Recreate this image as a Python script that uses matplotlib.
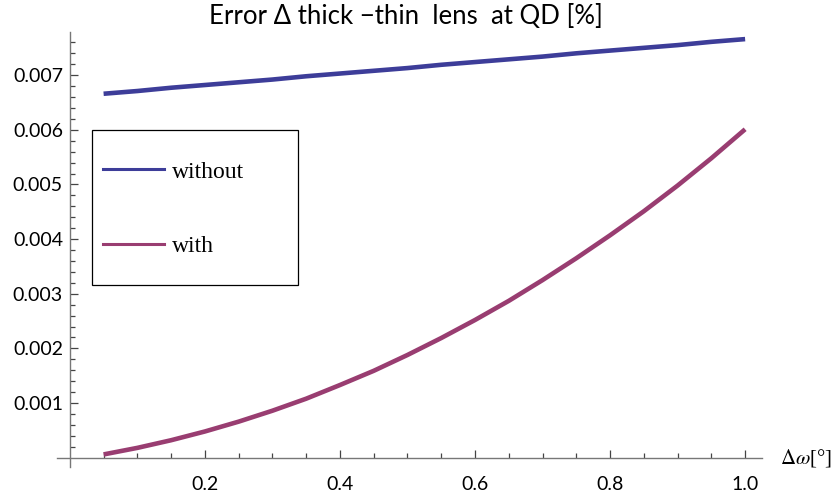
import matplotlib
matplotlib.use("Agg")
import matplotlib.pyplot as plt
from matplotlib.lines import Line2D
from matplotlib.patches import Rectangle

# angle step [deg]
omega = [0.05, 0.10, 0.15, 0.20, 0.25, 0.30, 0.35, 0.40, 0.45, 0.50,
         0.55, 0.60, 0.65, 0.70, 0.75, 0.80, 0.85, 0.90, 0.95, 1.00]
err_without = [0.00666, 0.00671, 0.00677, 0.00682, 0.00687, 0.00692, 0.00698,
               0.00703, 0.00708, 0.00713, 0.00719, 0.00724, 0.00729, 0.00734,
               0.00740, 0.00745, 0.00750, 0.00755, 0.00761, 0.00766]
err_with = [0.00006, 0.00018, 0.00032, 0.00048, 0.00066, 0.00086, 0.00108,
            0.00133, 0.00159, 0.00188, 0.00219, 0.00252, 0.00287, 0.00325,
            0.00365, 0.00407, 0.00451, 0.00498, 0.00548, 0.00601]

xticks = [0.2, 0.4, 0.6, 0.8, 1.0]
xticklabels = ["0.2", "0.4", "0.6", "0.8", "1.0"]
yticks = [0.001, 0.002, 0.003, 0.004, 0.005, 0.006, 0.007]
yticklabels = ["0.001", "0.002", "0.003", "0.004", "0.005", "0.006", "0.007"]

c_without = "#3d3d99"
c_with = "#993d71"
sans = ["Lato", "DejaVu Sans"]
serif = ["Liberation Serif", "DejaVu Serif"]

plt.rcParams["mathtext.fontset"] = "stix"

W, H = 833, 498
fig = plt.figure(figsize=(W / 100, H / 100), dpi=100)
ax = fig.add_axes([57 / W, (H - 467) / H, 705 / W, 435 / H])

ax.plot(omega, err_without, color=c_without, lw=3.3, solid_capstyle="butt")
ax.plot(omega, err_with, color=c_with, lw=3.3, solid_capstyle="butt")

ax.set_xlim(-0.019, 1.025)
ax.set_ylim(-0.00017, 0.00779)

for s in ["top", "right"]:
    ax.spines[s].set_visible(False)
ax.spines["left"].set_position(("data", 0))
ax.spines["bottom"].set_position(("data", 0))
for s in ["left", "bottom"]:
    ax.spines[s].set_color("#777777")
    ax.spines[s].set_linewidth(1.0)

ax.set_xticks(xticks)
ax.set_xticklabels(xticklabels)
ax.set_xticks([0.05, 0.1, 0.15, 0.25, 0.3, 0.35, 0.45, 0.5, 0.55, 0.65,
               0.7, 0.75, 0.85, 0.9, 0.95], minor=True)
ax.set_yticks(yticks)
ax.set_yticklabels(yticklabels)
ax.set_yticks([i * 0.0002 for i in range(1, 39) if i % 5 != 0], minor=True)

ax.tick_params(which="both", direction="in", color="#444444", width=0.9)
ax.tick_params(which="major", length=6)
ax.tick_params(which="minor", length=3.5)
ax.tick_params(axis="x", which="major", pad=13)
ax.tick_params(axis="y", which="major", pad=5)
for lab in ax.get_xticklabels() + ax.get_yticklabels():
    lab.set_family(sans)
    lab.set_fontsize(14)

fig.text(405.5 / W, 1 - 24 / H, "Error \u0394 thick \u2212thin  lens  at QD [%]",
         ha="center", va="baseline", fontsize=18.5, family=sans)

ax.annotate(r"$\Delta\omega$[°]", xy=(1, 0), xycoords=("axes fraction", "data"),
            xytext=(13, 0), textcoords="offset points", ha="left", va="center",
            fontsize=15, family=serif)

# legend box
fig.patches.append(Rectangle((92 / W, 1 - 284.5 / H), 206 / W, 154 / H,
                             transform=fig.transFigure, fill=False,
                             edgecolor="black", lw=0.9))
handles = [Line2D([], [], color=c_without, lw=2.2),
           Line2D([], [], color=c_with, lw=2.2)]
fig.legend(handles, ["without", "with"], loc="upper left",
           bbox_to_anchor=(102.5 / W, 1 - 161 / H), frameon=False,
           borderpad=0, borderaxespad=0, handlelength=2.6,
           handletextpad=0.35, labelspacing=2.25,
           prop={"family": serif, "size": 17})

fig.savefig("out.png", dpi=100)
